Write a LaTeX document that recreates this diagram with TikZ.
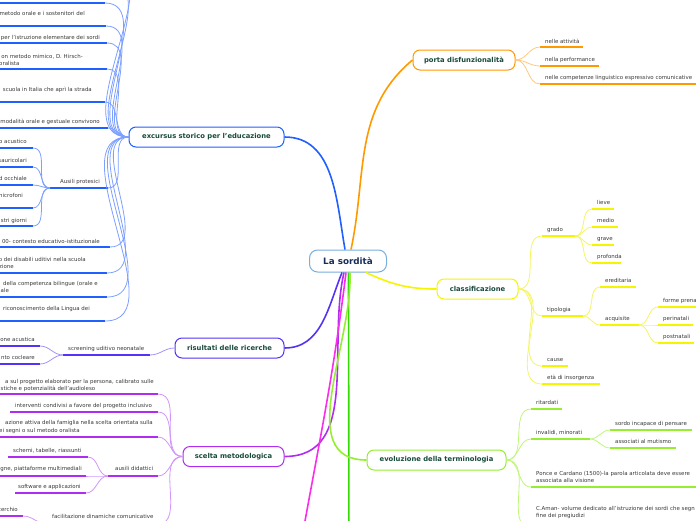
\documentclass[tikz,border=0pt]{standalone}
\usepackage{fontspec}
\setmainfont{DejaVu Sans}
\definecolor{BlueBranch}{RGB}{32,96,255}
\definecolor{BlueLink}{RGB}{125,160,255}
\definecolor{OrangeBranch}{RGB}{255,153,0}
\definecolor{OrangeLink}{RGB}{255,200,120}
\definecolor{YellowBranch}{RGB}{245,245,0}
\definecolor{YellowLink}{RGB}{245,245,95}
\definecolor{LimeBranch}{RGB}{150,238,50}
\definecolor{LimeLink}{RGB}{190,246,120}
\definecolor{GreenBranch}{RGB}{50,220,0}
\definecolor{IndigoBranch}{RGB}{85,50,245}
\definecolor{IndigoLink}{RGB}{165,145,250}
\definecolor{VioletBranch}{RGB}{175,45,240}
\definecolor{VioletLink}{RGB}{210,150,250}
\definecolor{MagentaBranch}{RGB}{250,45,235}
\definecolor{RootBorder}{RGB}{120,175,220}
\definecolor{RootText}{RGB}{25,45,90}
\definecolor{TopicText}{RGB}{25,75,60}
\definecolor{LeafText}{RGB}{55,55,55}

\begin{document}
\begin{tikzpicture}[x=1pt, y=1pt,
    root/.style={draw=RootBorder, fill=white, line width=1pt, rounded corners=8pt, minimum width=77pt, minimum height=22pt, text=RootText, font=\fontsize{8.8}{10}\selectfont\bfseries},
    topic/.style={fill=white, line width=1pt, rounded corners=7pt, minimum height=20pt, text=TopicText, font=\fontsize{6.8}{8}\selectfont\bfseries},
    leaf/.style={inner sep=0pt, text=LeafText, font=\fontsize{5.45}{6.6}\selectfont},
    leafR/.style={leaf, anchor=base west},
    leafL/.style={leaf, anchor=base east},
    under/.style={line width=1.7pt},
    link/.style={line width=0.8pt},
    branch/.style={line width=1.6pt}]
  \useasboundingbox (0,0) rectangle (696,-520);
  \clip (0,0) rectangle (696,-520);

  \node[root] (root) at (348,-261) {La sordità};
  \node[topic, draw=BlueBranch, minimum width=155pt] (excursus) at (206.5,-137) {excursus storico per l'educazione};
  \node[topic, draw=OrangeBranch, minimum width=102pt] (porta) at (464,-60) {porta disfunzionalità};
  \node[topic, draw=YellowBranch, minimum width=81pt] (classif) at (477.5,-289) {classificazione};
  \node[topic, draw=IndigoBranch, minimum width=109pt] (risultati) at (229.5,-348) {risultati delle ricerche};
  \node[topic, draw=VioletBranch, minimum width=101pt] (scelta) at (233.5,-456.5) {scelta metodologica};
  \node[topic, draw=LimeBranch, minimum width=139pt] (evoluz) at (436.5,-460) {evoluzione della terminologia};
  \coordinate (magenta-off) at (298,-560);
  \coordinate (green-off) at (349,-560);

  \draw[branch, BlueBranch] ([xshift=-3pt]root.north) to[out=100,in=0] (excursus.east);
  \draw[branch, OrangeBranch] ([xshift=3pt]root.north) to[out=78,in=220] (porta.west);
  \draw[branch, YellowBranch] ([xshift=18pt]root.south) to[out=-25,in=180] (classif.west);
  \draw[branch, IndigoBranch] ([xshift=-6pt]root.south) to[out=-112,in=0] (risultati.east);
  \draw[branch, VioletBranch] ([xshift=-4pt]root.south) to[out=-103,in=0] (scelta.east);
  \draw[branch, MagentaBranch] ([xshift=-2pt]root.south) to[out=-97,in=80] (magenta-off);
  \draw[branch, GreenBranch] ([xshift=0.5pt]root.south) -- (green-off);
  \draw[branch, LimeBranch] ([xshift=2pt]root.south) to[out=-88,in=180] (evoluz.west);

  % porta disfunzionalita
  \node[leafR] (attivita) at (545,-43.8) {nelle attività};
  \node[leafR] (perform) at (545,-61.8) {nella performance};
  \node[leafR] (compet) at (545,-79.8) {nelle competenze linguistico espressivo comunicative};
  \draw[under, OrangeBranch] (540,-47) coordinate (attivita-u) -- (583,-47);
  \draw[under, OrangeBranch] (540,-66) coordinate (perform-u) -- (599,-66);
  \draw[under, OrangeBranch] (540,-84) coordinate (compet-u) -- (700,-84);
  \draw[link, OrangeLink] (porta.east) to[out=0,in=180] (attivita-u);
  \draw[link, OrangeLink] (porta.east) to[out=0,in=180] (perform-u);
  \draw[link, OrangeLink] (porta.east) to[out=0,in=180] (compet-u);

  % classificazione
  \node[leafR] (grado) at (547,-231.8) {grado};
  \node[leafR] (lieve) at (597,-204.8) {lieve};
  \node[leafR] (medio) at (597,-222.8) {medio};
  \node[leafR] (grave) at (597,-240.8) {grave};
  \node[leafR] (profonda) at (597,-258.8) {profonda};
  \node[leafR] (tipologia) at (547,-311.8) {tipologia};
  \node[leafR] (ereditaria) at (605,-282.3) {ereditaria};
  \node[leafR] (acquisite) at (605,-320.8) {acquisite};
  \node[leafR] (prenatali) at (663,-302.8) {forme prenatali};
  \node[leafR] (perinatali) at (663,-320.8) {perinatali};
  \node[leafR] (postnatali) at (663,-338.8) {postnatali};
  \node[leafR] (cause) at (547,-361.8) {cause};
  \node[leafR] (insorg) at (547,-379.8) {età di insorgenza};
  \draw[under, YellowBranch] (542,-236) coordinate (grado-u) -- (575,-236) coordinate (grado-e);
  \draw[under, YellowBranch] (592,-209) coordinate (lieve-u) -- (614,-209);
  \draw[under, YellowBranch] (592,-227) coordinate (medio-u) -- (618,-227);
  \draw[under, YellowBranch] (592,-245) coordinate (grave-u) -- (614,-245);
  \draw[under, YellowBranch] (592,-263) coordinate (profonda-u) -- (621,-263);
  \draw[under, YellowBranch] (542,-316) coordinate (tipologia-u) -- (583,-316) coordinate (tipologia-e);
  \draw[under, YellowBranch] (600,-287) coordinate (ereditaria-u) -- (636,-287);
  \draw[under, YellowBranch] (600,-325) coordinate (acquisite-u) -- (639,-325) coordinate (acquisite-e);
  \draw[under, YellowBranch] (658,-307) coordinate (prenatali-u) -- (700,-307);
  \draw[under, YellowBranch] (658,-325) coordinate (perinatali-u) -- (693,-325);
  \draw[under, YellowBranch] (658,-343) coordinate (postnatali-u) -- (694,-343);
  \draw[under, YellowBranch] (542,-366) coordinate (cause-u) -- (568,-366);
  \draw[under, YellowBranch] (542,-384) coordinate (insorg-u) -- (600,-384);
  \draw[link, YellowLink] (classif.east) to[out=0,in=180] (grado-u);
  \draw[link, YellowLink] (classif.east) to[out=0,in=180] (tipologia-u);
  \draw[link, YellowLink] (classif.east) to[out=0,in=180] (cause-u);
  \draw[link, YellowLink] (classif.east) to[out=0,in=180] (insorg-u);
  \draw[link, YellowLink] (grado-e) to[out=0,in=180] (lieve-u);
  \draw[link, YellowLink] (grado-e) to[out=0,in=180] (medio-u);
  \draw[link, YellowLink] (grado-e) to[out=0,in=180] (grave-u);
  \draw[link, YellowLink] (grado-e) to[out=0,in=180] (profonda-u);
  \draw[link, YellowLink] (tipologia-e) to[out=0,in=180] (ereditaria-u);
  \draw[link, YellowLink] (tipologia-e) to[out=0,in=180] (acquisite-u);
  \draw[link, YellowLink] (acquisite-e) to[out=0,in=180] (prenatali-u);
  \draw[link, YellowLink] (acquisite-e) to[out=0,in=180] (perinatali-u);
  \draw[link, YellowLink] (acquisite-e) to[out=0,in=180] (postnatali-u);

  % evoluzione della terminologia
  \node[leafR] (ritardati) at (536,-404.8) {ritardati};
  \node[leafR] (invalidi) at (536,-434.8) {invalidi, minorati};
  \node[leafR] (incapace) at (615,-425.8) {sordo incapace di pensare};
  \node[leafR] (mutismo) at (615,-443.8) {associati al mutismo};
  \node[leafR] (ponce) at (536,-475.8) {Ponce e Cardano (1500)-la parola articolata deve essere};
  \node[leafR] (ponce2) at ([yshift=-6.6pt]ponce.base west) {associata alla visione};
  \node[leafR] (aman) at (536,-510.8) {C.Aman- volume dedicato all'istruzione dei sordi che segn};
  \node[leafR] (aman2) at ([yshift=-6.6pt]aman.base west) {fine dei pregiudizi};
  \draw[under, LimeBranch] (531,-409) coordinate (ritardati-u) -- (562,-409);
  \draw[under, LimeBranch] (531,-439) coordinate (invalidi-u) -- (590,-439) coordinate (invalidi-e);
  \draw[under, LimeBranch] (610,-430) coordinate (incapace-u) -- (692,-430);
  \draw[under, LimeBranch] (610,-448) coordinate (mutismo-u) -- (676,-448);
  \draw[under, LimeBranch] (531,-487) coordinate (ponce-u) -- (700,-487);
  \draw[under, LimeBranch] (531,-528) coordinate (aman-u) -- (700,-528);
  \draw[link, LimeLink] (evoluz.east) to[out=0,in=180] (ritardati-u);
  \draw[link, LimeLink] (evoluz.east) to[out=0,in=180] (invalidi-u);
  \draw[link, LimeLink] (evoluz.east) to[out=0,in=180] (ponce-u);
  \draw[link, LimeLink] (evoluz.east) to[out=0,in=180] (aman-u);
  \draw[link, LimeLink] (invalidi-e) to[out=0,in=180] (incapace-u);
  \draw[link, LimeLink] (invalidi-e) to[out=0,in=180] (mutismo-u);

  % excursus storico
  \node[leafL] (metodo) at (85,-15.8) {metodo orale e i sostenitori del};
  \node[leafL] (istruz) at (100,-39.5) {per l'istruzione elementare dei sordi};
  \node[leafL] (mimico) at (83,-58.8) {on metodo mimico, D. Hirsch-};
  \node[leafR] (mimico2) at (-1,-65.4) {oralista};
  \node[leafL] (italia) at (92,-91.8) {scuola in Italia che aprì la strada};
  \node[leafL] (modalita) at (100,-123.8) {modalità orale e gestuale convivono};
  \node[leafR] (ausili) at (60,-183.8) {Ausili protesici};
  \node[leafL] (acustico) at (27,-143.8) {o acustico};
  \node[leafL] (auricol) at (27,-162.8) {sauricolari};
  \node[leafL] (occhiale) at (27,-180.3) {d occhiale};
  \node[leafL] (microf) at (23,-197.8) {nicrofoni};
  \node[leafL] (giorni) at (27,-222.3) {stri giorni};
  \node[leafL] (contesto) at (100,-243.8) {00- contesto educativo-istituzionale};
  \node[leafL] (disabili) at (86,-261.8) {o dei disabili uditivi nella scuola};
  \node[leafR] (disabili2) at (-1,-268.4) {zione};
  \node[leafL] (bilingue) at (98,-285.8) {della competenza bilingue (orale e};
  \node[leafR] (bilingue2) at (-1,-292.6) {iale};
  \node[leafL] (lingua) at (90,-310.8) {riconoscimento della Lingua dei};
  \coordinate (hidden1-u) at (108,40);
  \coordinate (hidden2-u) at (108,18);
  \draw[under, BlueBranch] (-5,-3) -- (105,-3) coordinate (top-u);
  \draw[under, BlueBranch] (-5,-26) -- (106,-26) coordinate (metodo-u);
  \draw[under, BlueBranch] (-5,-43) -- (107,-43) coordinate (istruz-u);
  \draw[under, BlueBranch] (-5,-69) -- (107,-69) coordinate (mimico-u);
  \draw[under, BlueBranch] (-5,-102) -- (105,-102) coordinate (italia-u);
  \draw[under, BlueBranch] (-5,-128) -- (108,-128) coordinate (modalita-u);
  \draw[under, BlueBranch] (50,-188) coordinate (ausili-l) -- (108,-188) coordinate (ausili-u);
  \draw[under, BlueBranch] (-5,-148) -- (33,-148) coordinate (acustico-u);
  \draw[under, BlueBranch] (-5,-167) -- (33,-167) coordinate (auricol-u);
  \draw[under, BlueBranch] (-5,-185) -- (33,-185) coordinate (occhiale-u);
  \draw[under, BlueBranch] (-5,-208) -- (33,-208) coordinate (microf-u);
  \draw[under, BlueBranch] (-5,-226) -- (33,-226) coordinate (giorni-u);
  \draw[under, BlueBranch] (-5,-247) -- (110,-247) coordinate (contesto-u);
  \draw[under, BlueBranch] (-5,-273) -- (107,-273) coordinate (disabili-u);
  \draw[under, BlueBranch] (-5,-297) -- (107,-297) coordinate (bilingue-u);
  \draw[under, BlueBranch] (-5,-321) -- (105,-321) coordinate (lingua-u);
  \draw[link, BlueLink] (hidden1-u) to[out=0,in=180] (excursus.west);
  \draw[link, BlueLink] (hidden2-u) to[out=0,in=180] (excursus.west);
  \draw[link, BlueLink] (top-u) to[out=0,in=180] (excursus.west);
  \draw[link, BlueLink] (metodo-u) to[out=0,in=180] (excursus.west);
  \draw[link, BlueLink] (istruz-u) to[out=0,in=180] (excursus.west);
  \draw[link, BlueLink] (mimico-u) to[out=0,in=180] (excursus.west);
  \draw[link, BlueLink] (italia-u) to[out=0,in=180] (excursus.west);
  \draw[link, BlueLink] (modalita-u) to[out=0,in=180] (excursus.west);
  \draw[link, BlueLink] (ausili-u) to[out=0,in=180] (excursus.west);
  \draw[link, BlueLink] (contesto-u) to[out=0,in=180] (excursus.west);
  \draw[link, BlueLink] (disabili-u) to[out=0,in=180] (excursus.west);
  \draw[link, BlueLink] (bilingue-u) to[out=0,in=180] (excursus.west);
  \draw[link, BlueLink] (lingua-u) to[out=0,in=180] (excursus.west);
  \draw[link, BlueLink] (acustico-u) to[out=0,in=180] (ausili-l);
  \draw[link, BlueLink] (auricol-u) to[out=0,in=180] (ausili-l);
  \draw[link, BlueLink] (occhiale-u) to[out=0,in=180] (ausili-l);
  \draw[link, BlueLink] (microf-u) to[out=0,in=180] (ausili-l);
  \draw[link, BlueLink] (giorni-u) to[out=0,in=180] (ausili-l);

  % risultati delle ricerche
  \node[leafR] (screening) at (68,-350.8) {screening uditivo neonatale};
  \node[leafL] (acustica) at (35,-341.8) {ione acustica};
  \node[leafL] (cocleare) at (35,-359.8) {nto cocleare};
  \draw[under, IndigoBranch] (63,-355) coordinate (screening-l) -- (150,-355) coordinate (screening-u);
  \draw[under, IndigoBranch] (-5,-346) -- (40,-346) coordinate (acustica-u);
  \draw[under, IndigoBranch] (-5,-364) -- (40,-364) coordinate (cocleare-u);
  \draw[link, IndigoLink] (screening-u) to[out=0,in=180] (risultati.west);
  \draw[link, IndigoLink] (acustica-u) to[out=0,in=180] (screening-l);
  \draw[link, IndigoLink] (cocleare-u) to[out=0,in=180] (screening-l);

  % scelta metodologica
  \node[leafL] (persona) at (154,-383.8) {a sul progetto elaborato per la persona, calibrato sulle};
  \node[leafR] (persona2) at (-1,-390.4) {istiche e potenzialità dell'audioleso};
  \node[leafR] (condivisi) at (15,-407.8) {interventi condivisi a favore del progetto inclusivo};
  \node[leafL] (famiglia) at (153,-424.8) {azione attiva della famiglia nella scelta orientata sulla};
  \node[leafR] (famiglia2) at (-1,-432.8) {ei segni o sul metodo oralista};
  \node[leafR] (didattici) at (115,-470.8) {ausili didattici};
  \node[leafR] (schemi) at (13,-452.8) {schemi, tabelle, riassunti};
  \node[leafL] (piattaf) at (82,-470.8) {gne, piattaforme multimediali};
  \node[leafR] (software) at (18,-488.8) {software e applicazioni};
  \node[leafR] (facilit) at (52,-518.8) {facilitazione dinamiche comunicative};
  \node[leafL] (cerchio) at (18,-511.8) {cerchio};
  \draw[under, VioletBranch] (-5,-394) -- (158,-394) coordinate (persona-u);
  \draw[under, VioletBranch] (10,-412) -- (158,-412) coordinate (condivisi-u);
  \draw[under, VioletBranch] (-5,-437) -- (158,-437) coordinate (famiglia-u);
  \draw[under, VioletBranch] (108,-476) coordinate (didattici-l) -- (158,-476) coordinate (didattici-u);
  \draw[under, VioletBranch] (8,-457) -- (88,-457) coordinate (schemi-u);
  \draw[under, VioletBranch] (-5,-476) -- (86,-476) coordinate (piattaf-u);
  \draw[under, VioletBranch] (15,-493) -- (86,-493) coordinate (software-u);
  \draw[under, VioletBranch] (47,-524) coordinate (facilit-l) -- (158,-524) coordinate (facilit-u);
  \draw[under, VioletBranch] (-5,-516) -- (23,-516) coordinate (cerchio-u);
  \draw[link, VioletLink] (persona-u) to[out=0,in=180] (scelta.west);
  \draw[link, VioletLink] (condivisi-u) to[out=0,in=180] (scelta.west);
  \draw[link, VioletLink] (famiglia-u) to[out=0,in=180] (scelta.west);
  \draw[link, VioletLink] (didattici-u) to[out=0,in=180] (scelta.west);
  \draw[link, VioletLink] (facilit-u) to[out=0,in=180] (scelta.west);
  \draw[link, VioletLink] (schemi-u) to[out=0,in=180] (didattici-l);
  \draw[link, VioletLink] (piattaf-u) to[out=0,in=180] (didattici-l);
  \draw[link, VioletLink] (software-u) to[out=0,in=180] (didattici-l);
  \draw[link, VioletLink] (cerchio-u) to[out=0,in=180] (facilit-l);
\end{tikzpicture}
\end{document}
